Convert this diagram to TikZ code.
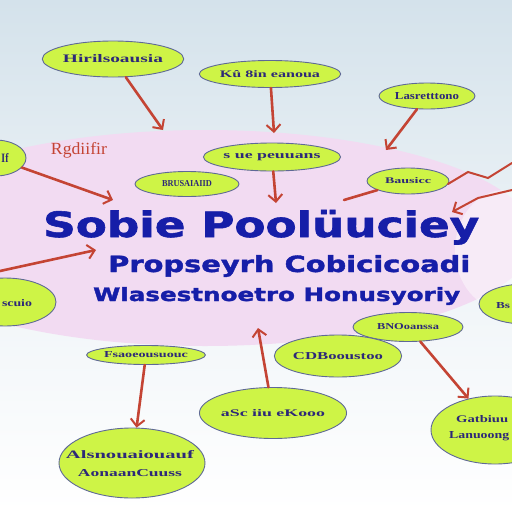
\documentclass[tikz,border=0pt]{standalone}
\usepackage{fontspec}
\setmainfont{DejaVu Sans}
\newfontfamily\lblfont{Liberation Serif}
\newfontfamily\heavyfont{DejaVu Sans Bold}[FakeBold=1.6]
\usetikzlibrary{arrows.meta,shapes.geometric}
\definecolor{bgtop}{RGB}{212,226,235}
\definecolor{lime}{RGB}{206,244,70}
\definecolor{edgec}{RGB}{95,105,150}
\definecolor{navy}{RGB}{22,30,168}
\definecolor{txtc}{RGB}{45,40,120}
\definecolor{arrc}{RGB}{196,68,52}
\definecolor{pinkk}{RGB}{242,219,242}
\newcommand{\lbl}[3]{\resizebox{#1pt}{#2pt}{\lblfont\bfseries #3}}
\newcommand{\ttl}[3]{\resizebox{#1pt}{#2pt}{\heavyfont #3}}
\tikzset{
  bub/.style={ellipse, draw=edgec, line width=0.9pt, fill=lime, inner sep=0pt, text=txtc},
  rarr/.style={draw=arrc, line width=2.6pt, line cap=round, -{Straight Barb[length=7pt,width=14pt,line width=2pt]}},
  rline/.style={draw=arrc, line width=2.6pt, line cap=round},
  ttlnode/.style={inner sep=0pt, anchor=base west, text=navy}
}
\begin{document}
\begin{tikzpicture}[x=1pt,y=-1pt]
\useasboundingbox (0,0) rectangle (512,512);
\shade[top color=bgtop, bottom color=white, middle color=white!60!bgtop] (0,0) rectangle (512,512);
\fill[pinkk] (205,238) ellipse [x radius=330, y radius=108];
\fill[white, opacity=0.45] (505,250) ellipse [x radius=50, y radius=60];
% bubbles
\node[bub, minimum width=126pt, minimum height=36pt] (e1) at (113,59) {\lbl{100}{8}{Hirilsoausia}};
\node[bub, minimum width=121pt, minimum height=27pt] (e2) at (270,74) {\lbl{100}{7}{K\^u 8in eanoua}};
\node[bub, minimum width=96pt, minimum height=26pt] (e3) at (427,96) {\lbl{64}{7}{Lasretttono}};
\node[bub, minimum width=62pt, minimum height=36pt] (e4) at (-5,158) {};
\node[text=txtc] at (5,158) {\lbl{7}{9}{If}};
\node[bub, minimum width=106pt, minimum height=28pt] (e5) at (272,157) {\lbl{97}{5}{s ue peuuans}};
\node[bub, minimum width=104pt, minimum height=25pt] (e6) at (187,184) {\lbl{50}{6}{BRUSAIAIID}};
\node[bub, minimum width=82pt, minimum height=26pt] (e7) at (408,181) {\lbl{46}{6}{Bausicc}};
\node[bub, minimum width=102pt, minimum height=48pt] (e9) at (5,302) {};
\node[text=txtc] at (17,303) {\lbl{30}{7}{scuio}};
\node[bub, minimum width=102pt, minimum height=19pt] (e10) at (146,355) {\lbl{84}{6}{Fsaoeousuouc}};
\node[bub, minimum width=110pt, minimum height=29pt] (e11) at (408,327) {\lbl{62}{6}{BNOoanssa}};
\node[bub, minimum width=102pt, minimum height=42pt] (e12) at (338,356) {\lbl{90}{7}{CDBooustoo}};
\node[bub, minimum width=92pt, minimum height=40pt] (e13) at (525,304) {};
\node[text=txtc] at (503,306) {\lbl{14}{6}{Bs}};
\node[bub, minimum width=140pt, minimum height=51pt] (e14) at (273,413) {\lbl{104}{7}{aSc iiu eKooo}};
\node[bub, minimum width=128pt, minimum height=68pt] (e15) at (495,430) {};
\node[text=txtc, anchor=west, inner sep=0pt] at (456,419) {\lbl{52}{7}{Gatbiuu}};
\node[text=txtc, anchor=west, inner sep=0pt] at (449,436) {\lbl{60}{7}{Lanuoong}};
\node[bub, minimum width=146pt, minimum height=70pt] (e16) at (132,463) {};
\node[text=txtc] at (130,455) {\lbl{128}{8}{Alsnouaiouauf}};
\node[text=txtc] at (130,473) {\lbl{104}{7}{AonaanCuuss}};
% red scribble
\node[text=arrc] (scr) at (79,150) {\resizebox{56pt}{12pt}{\lblfont Rgdiifir}};
% title
\node[ttlnode] (t1) at (43,237) {\ttl{436}{27}{Sobie Pool\"uuciey}};
\node[ttlnode] (t2) at (108,272) {\ttl{362}{17}{Propseyrh Cobicicoadi}};
\node[ttlnode] (t3) at (93,301) {\ttl{367}{14}{Wlasestnoetro Honusyoriy}};
% coordinates
\coordinate (a1) at (163,130);
\coordinate (a2) at (274,133);
\coordinate (a3) at (386,150);
\coordinate (a4) at (113,200);
\coordinate (a6) at (276,203);
\coordinate (a7) at (344,200);
\coordinate (a9s) at (0,271);
\coordinate (a9) at (96,250);
\coordinate (a11) at (258,328);
\coordinate (z1) at (448,184);
\coordinate (z2) at (468,172);
\coordinate (z3) at (488,178);
\coordinate (z4) at (512,163);
\coordinate (z5) at (452,212);
\coordinate (z6) at (478,198);
\coordinate (z7) at (512,190);
% connectors
\draw[rarr] (e1) -- (a1);
\draw[rarr] (e2) -- (a2);
\draw[rarr] (e3) -- (a3);
\draw[rarr] (e4) -- (a4);
\draw[rarr] (e5) -- (a6);
\draw[rline] (e7) -- (a7);
\draw[rarr] (a9s) -- (a9);
\draw[rarr] (e10) -- (e16);
\draw[rarr] (e14) -- (a11);
\draw[rarr] (e11) -- (e15);
\draw[rline, line width=2pt] (z1) -- (z2) -- (z3) -- (z4);
\draw[rarr, line width=2pt] (z7) -- (z6) -- (z5);
\end{tikzpicture}
\end{document}
